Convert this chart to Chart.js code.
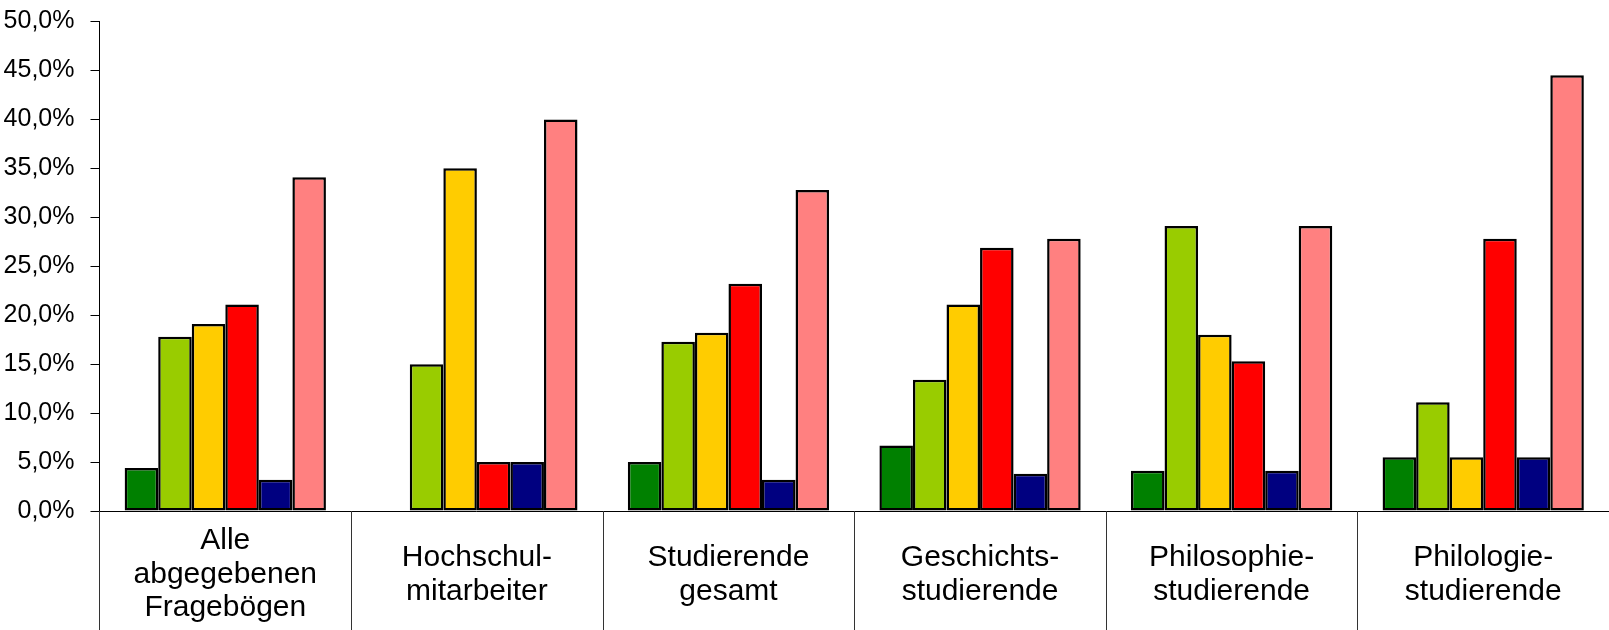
<!DOCTYPE html>
<html>
<head>
<meta charset="utf-8">
<script src="https://cdn.jsdelivr.net/npm/chart.js@4/dist/chart.umd.min.js"></script>
<style>
  html, body { margin: 0; padding: 0; background: #fff; }
  #wrap { width: 1609px; height: 630px; position: relative; }
</style>
</head>
<body>
<div id="wrap"><canvas id="c"></canvas></div>
<script>
const categories = [
  ["Alle", "abgegebenen", "Fragebögen"],
  ["Hochschul-", "mitarbeiter"],
  ["Studierende", "gesamt"],
  ["Geschichts-", "studierende"],
  ["Philosophie-", "studierende"],
  ["Philologie-", "studierende"]
];
const series1 = [4.4, null, 5.0, 6.7, 4.1, 5.5];
const series2 = [17.8, 15.0, 17.3, 13.4, 29.1, 11.1];
const series3 = [19.1, 35.0, 18.2, 21.1, 18.0, 5.5];
const series4 = [21.1, 5.0, 23.2, 26.9, 15.3, 27.8];
const series5 = [3.2, 5.0, 3.2, 3.8, 4.1, 5.5];
const series6 = [34.1, 40.0, 32.8, 27.8, 29.1, 44.5];
const colors = ["#008000", "#99CC00", "#FFCC00", "#FF0000", "#000080", "#FF8080"];
const allSeries = [series1, series2, series3, series4, series5, series6];

const ds = allSeries.map((d, i) => ({
  label: "S" + (i + 1),
  data: d,
  backgroundColor: colors[i],
  borderColor: "#000",
  borderWidth: 2.5,
  borderSkipped: false,
  categoryPercentage: 0.8,
  barPercentage: 1.0
}));

// category separators below the x axis, positioned from the scale's own tick pixels
const separators = {
  id: "separators",
  afterDraw(chart) {
    const xs = chart.scales.x;
    const ctx = chart.ctx;
    const n = xs.ticks.length;
    const pts = [];
    for (let i = 0; i <= n; i++) {
      let px;
      if (i === 0) px = xs.getPixelForTick(0) - (xs.getPixelForTick(1) - xs.getPixelForTick(0)) / 2;
      else if (i === n) px = xs.getPixelForTick(n - 1) + (xs.getPixelForTick(n - 1) - xs.getPixelForTick(n - 2)) / 2;
      else px = (xs.getPixelForTick(i - 1) + xs.getPixelForTick(i)) / 2;
      pts.push(Math.round(px) + 0.5);
    }
    ctx.save();
    ctx.strokeStyle = "#333";
    ctx.lineWidth = 1;
    pts.forEach(px => {
      ctx.beginPath();
      ctx.moveTo(px, xs.top);
      ctx.lineTo(px, chart.height);
      ctx.stroke();
    });
    ctx.restore();
  }
};

new Chart(document.getElementById("c"), {
  type: "bar",
  data: { labels: categories, datasets: ds },
  plugins: [separators],
  options: {
    responsive: true,
    maintainAspectRatio: false,
    animation: false,
    layout: { padding: { top: 21.5, left: 4, right: 0, bottom: 6 } },
    plugins: { legend: { display: false }, tooltip: { enabled: false } },
    scales: {
      x: {
        offset: true,
        border: { display: true, color: "#000", width: 1 },
        grid: { display: false, drawOnChartArea: false, drawTicks: false },
        afterFit: s => { s.height = 113; },
        ticks: {
          padding: 30,
          maxRotation: 0,
          autoSkip: false,
          crossAlign: "center",
          color: "#000",
          font: { family: "'Liberation Sans', Arial, sans-serif", size: 30, lineHeight: 1.12 }
        }
      },
      y: {
        min: 0,
        max: 50,
        border: { display: true, color: "#000", width: 1 },
        grid: { drawOnChartArea: false, tickLength: 9, color: "#000" },
        afterFit: s => { s.width = 95.5; s.paddingTop = 0; s.paddingBottom = 0; },
        ticks: {
          stepSize: 5,
          padding: 16,
          color: "#000",
          font: { family: "'Liberation Sans', Arial, sans-serif", size: 25 },
          callback: v => v.toFixed(1).replace(".", ",") + "%"
        }
      }
    }
  }
});
</script>
</body>
</html>
